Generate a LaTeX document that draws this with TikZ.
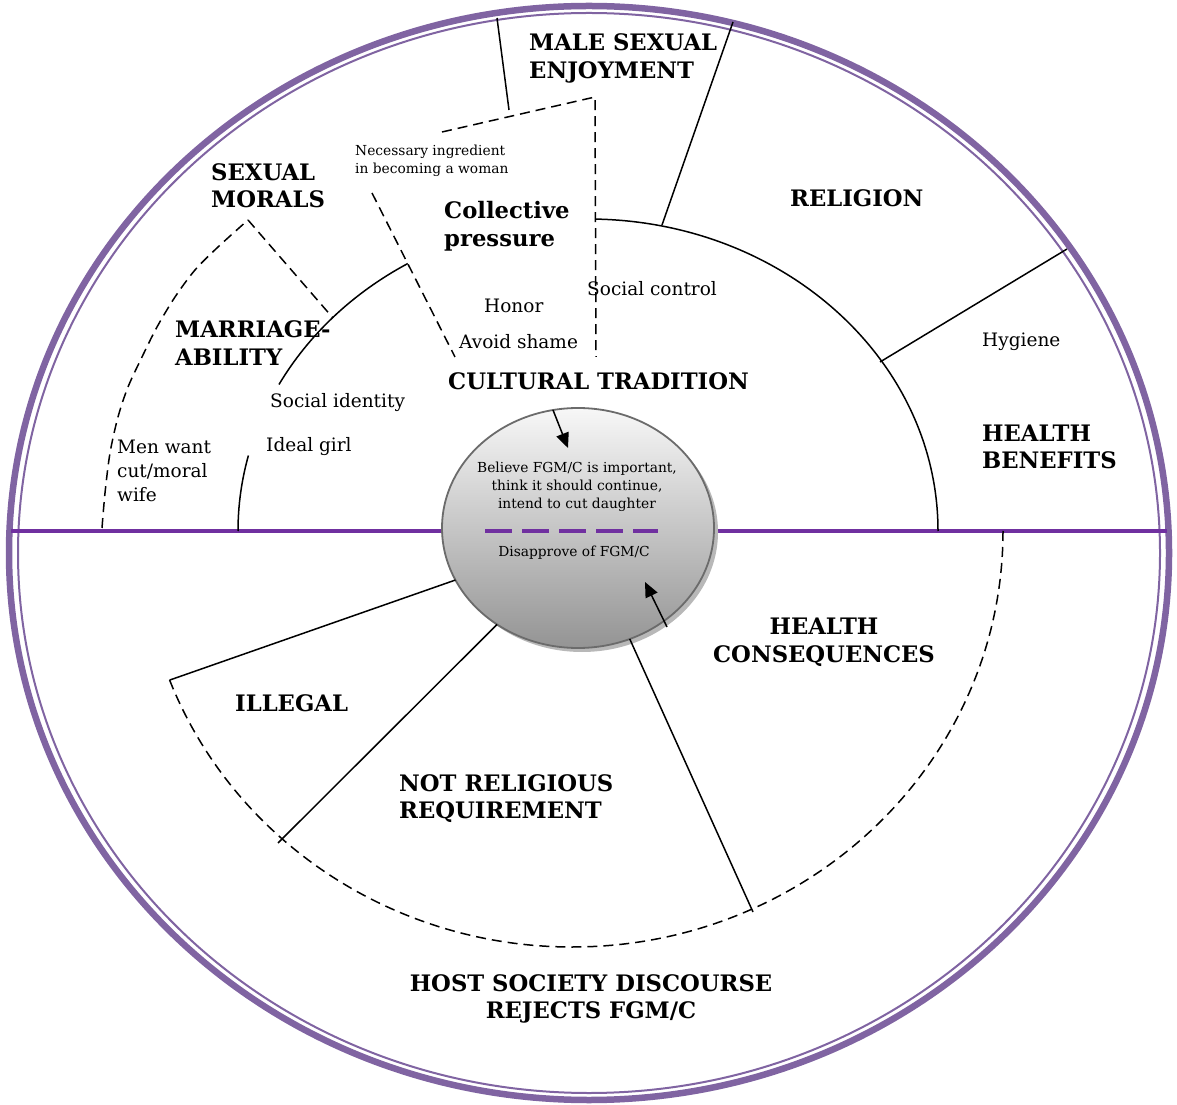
\documentclass[tikz,border=0pt]{standalone}
\usepackage{fontspec}
\setmainfont{DejaVu Serif}
\usetikzlibrary{arrows.meta,shapes.geometric}
\definecolor{ringc}{HTML}{8064A2}
\definecolor{linec}{HTML}{7030A0}
\begin{document}
\begin{tikzpicture}[x=1pt,y=1pt,
  hd/.style={font=\fontsize{22.7}{27.5}\selectfont\bfseries, inner sep=0pt, align=left, anchor=west},
  hdc/.style={font=\fontsize{22.7}{27.5}\selectfont\bfseries, inner sep=0pt, align=center},
  tx/.style={font=\fontsize{18.5}{24}\selectfont, inner sep=0pt, align=left, anchor=west},
  sm/.style={font=\fontsize{13.8}{18}\selectfont, inner sep=0pt, align=left},
  bnd/.style={line width=1.5pt, black},
  dsh/.style={line width=1.5pt, black, dash pattern=on 10pt off 6pt},
  arr/.style={line width=1.5pt, black, -{Triangle[length=15pt,width=13pt]}}
]
\useasboundingbox (0,0) rectangle (1177,1104);
% outer double ring
\draw[ringc, line width=6.5pt] (589,551) ellipse [x radius=580, y radius=547];
\draw[ringc, line width=2pt] (589,551) ellipse [x radius=571, y radius=540];
% horizontal divider
\coordinate (hl) at (11,573);
\coordinate (hr) at (1167,573);
\draw[linec, line width=3.2pt] (hl) -- (hr);
% cultural tradition arcs
\draw[bnd] (588,573) ++(88.7:350 and 312) arc[start angle=88.7,end angle=0,x radius=350,y radius=312];
\draw[bnd] (588,573) ++(121:350 and 312) arc[start angle=121,end angle=152,x radius=350,y radius=312];
\draw[bnd] (588,573) ++(166:350 and 312) arc[start angle=166,end angle=180,x radius=350,y radius=312];
% upper-left dashed curve
\coordinate (sm1) at (248,884);
\coordinate (sm2) at (333,786);
\draw[dsh] plot[smooth] coordinates {(102,576) (105,611) (110,651) (118,687) (128,717) (142,747) (157,777) (175,807) (195,834) (218,857) (248,884)};
\draw[dsh] (sm1) -- (sm2);
\coordinate (cp1) at (372,911);
\coordinate (cp2) at (455,747);
\draw[dsh] (cp1) -- (cp2);
\coordinate (tp1) at (442,972);
\coordinate (tp2) at (595,1007);
\coordinate (tp3) at (596,747);
\draw[dsh] (tp1) -- (tp2) -- (tp3);
% solid sector lines
\coordinate (a1) at (497,1086); \coordinate (a2) at (509,994);
\coordinate (b1) at (733,1082); \coordinate (b2) at (662,879);
\coordinate (c1) at (1067,855); \coordinate (c2) at (880,742);
\draw[bnd] (a1) -- (a2);
\draw[bnd] (b1) -- (b2);
\draw[bnd] (c1) -- (c2);
% lower dashed arc
\draw[dsh] (572,573) ++(0:431 and 416) arc[start angle=0,end angle=-159,x radius=431,y radius=416];
% core ellipse
\fill[black!28] (582,572) ellipse [x radius=136, y radius=120];
\node[ellipse, minimum width=272pt, minimum height=240pt, inner sep=0pt, outer sep=0pt,
      draw=black!58, line width=1.8pt, top color=black!3, bottom color=black!42] (core) at (578,576) {};
\draw[linec, line width=3.2pt, dash pattern=on 27pt off 10pt] (485,573) -- (658,573);
\coordinate (l1) at (169.6,423.9);
\coordinate (l2) at (278,261);
\coordinate (l3) at (753,192);
\draw[bnd] (core.203) -- (l1);
\draw[bnd] (core.230.7) -- (l2);
\draw[bnd] (core.295.1) -- (l3);
% arrows
\coordinate (ar1) at (553,694); \coordinate (ar2) at (568,656);
\coordinate (ar3) at (667,477); \coordinate (ar4) at (645,522);
\draw[arr] (ar1) -- (ar2);
\draw[arr] (ar3) -- (ar4);
% texts
\node[hd] (t1) at (529,1045.5) {MALE SEXUAL\\ENJOYMENT};
\node[hd] (t2) at (211,918.5) {SEXUAL\\MORALS};
\node[sm, anchor=west] (t3) at (355,943) {Necessary ingredient\\in becoming a woman};
\node[hd] (t4) at (444,878) {Collective\\pressure};
\node[hd] (t5) at (790,906) {RELIGION};
\node[tx] (t6) at (587,815) {Social control};
\node[tx] (t7) at (484,798) {Honor};
\node[tx] (t8) at (459,762) {Avoid shame};
\node[hd] (t9) at (448,723) {CULTURAL TRADITION};
\node[hd] (t10) at (175,761) {MARRIAGE-\\ABILITY};
\node[tx] (t11) at (270,701) {Social identity};
\node[tx] (t12) at (266,657) {Ideal girl};
\node[tx] (t13) at (117,633) {Men want\\cut/moral\\wife};
\node[tx] (t14) at (982,762) {Hygiene};
\node[hd] (t15) at (982,657) {HEALTH\\BENEFITS};
\node[sm, align=center] (t16) at (577,617) {Believe FGM/C is important,\\think it should continue,\\intend to cut daughter};
\node[sm] (t17) at (574,551) {Disapprove of FGM/C};
\node[hdc] (t18) at (824,461.5) {HEALTH\\CONSEQUENCES};
\node[hd] (t19) at (235,401) {ILLEGAL};
\node[hd] (t20) at (399,305.5) {NOT RELIGIOUS\\REQUIREMENT};
\node[hdc] (t21) at (591,105) {HOST SOCIETY DISCOURSE\\REJECTS FGM/C};
\end{tikzpicture}
\end{document}
